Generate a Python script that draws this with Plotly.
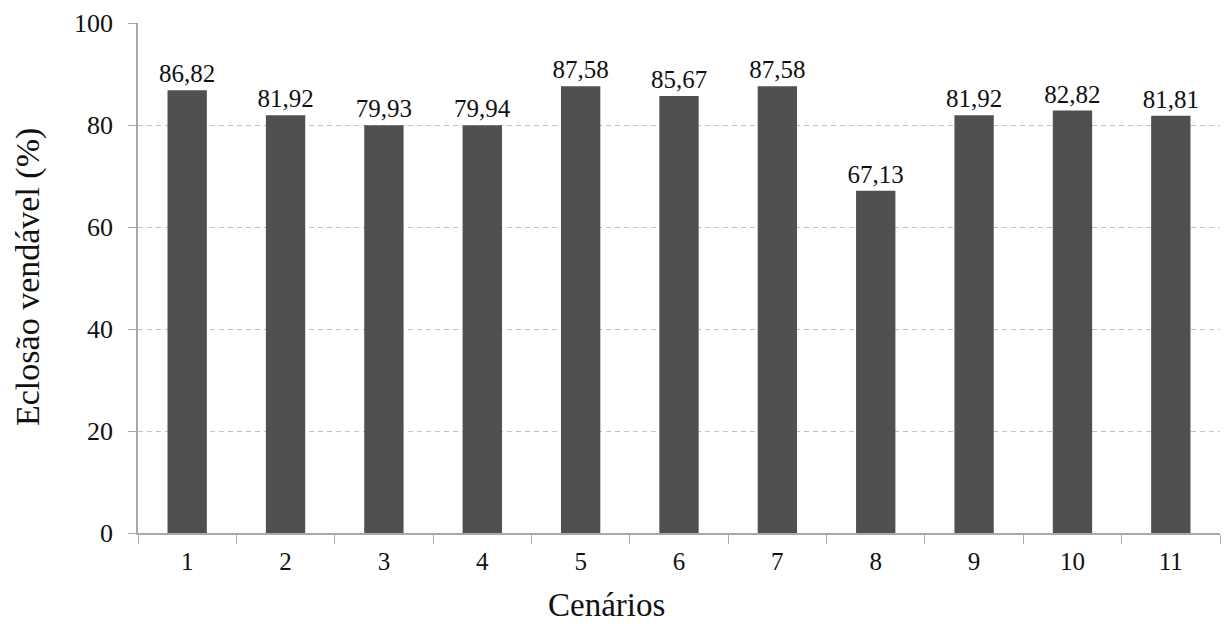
import plotly.graph_objects as go

categories = ["1", "2", "3", "4", "5", "6", "7", "8", "9", "10", "11"]
values = [86.82, 81.92, 79.93, 79.94, 87.58, 85.67, 87.58, 67.13, 81.92, 82.82, 81.81]
labels = ["86,82", "81,92", "79,93", "79,94", "87,58", "85,67", "87,58", "67,13", "81,92", "82,82", "81,81"]
y_ticks = [0, 20, 40, 60, 80, 100]

font = "Liberation Serif, Times New Roman, serif"
txt = "#111111"

L, R, T, B = 138, 7, 23, 93
W, H = 1227, 626
pw, ph = W - L - R, H - T - B

fig = go.Figure(go.Bar(
    x=categories, y=values, text=labels, textposition="outside",
    textfont=dict(family=font, size=25, color=txt),
    constraintext="none",
    marker=dict(color="#505050", line=dict(width=0)),
    width=0.4, cliponaxis=False,
))

fig.update_layout(
    width=W, height=H,
    margin=dict(l=L, r=R, t=T, b=B),
    paper_bgcolor="white", plot_bgcolor="white",
    font=dict(family=font, color=txt),
    showlegend=False,
    xaxis=dict(
        type="category", showline=True, linecolor="#a8a8a8", linewidth=1.5,
        ticks="outside", ticklen=9, tickcolor="#a8a8a8", tickson="boundaries",
        tickfont=dict(family=font, size=25, color=txt), ticklabelstandoff=5,
        showgrid=False,
    ),
    yaxis=dict(
        range=[0, 100], tickvals=y_ticks, showline=True, linecolor="#a8a8a8", linewidth=1.5,
        ticks="outside", ticklen=8, tickcolor="#a8a8a8",
        tickfont=dict(family=font, size=26, color=txt), ticklabelstandoff=10,
        showgrid=True, gridcolor="#c2c2c2", griddash="5px,4px", gridwidth=1,
        zeroline=False,
    ),
    annotations=[
        dict(text="Cenários", xref="paper", yref="paper",
             x=(606 - L) / pw, y=-(605 - (H - B)) / ph, xanchor="center", yanchor="middle",
             showarrow=False, font=dict(family=font, size=33, color=txt)),
        dict(text="Eclosão vendável (%)", xref="paper", yref="paper", textangle=-90,
             x=-(L - 28) / pw, y=((H - B) - 277) / ph, xanchor="center", yanchor="middle",
             showarrow=False, font=dict(family=font, size=34, color=txt)),
    ],
)

fig.write_html("out.html", config={"displayModeBar": False},
               post_script="document.body.style.margin='0';document.body.style.padding='0';")
